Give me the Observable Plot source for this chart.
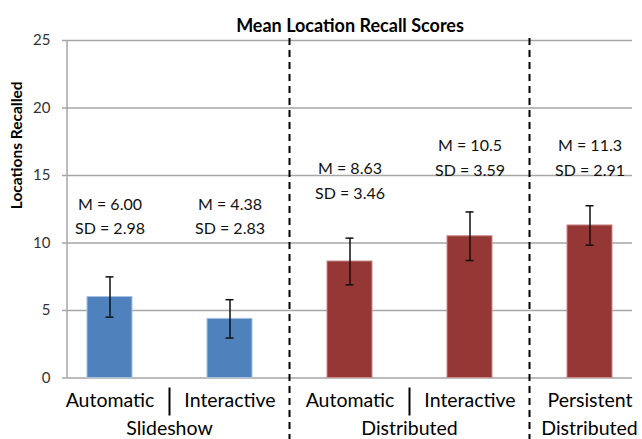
<!DOCTYPE html>
<html><head><meta charset="utf-8">
<script src="https://cdn.jsdelivr.net/npm/d3@7"></script>
<script src="https://cdn.jsdelivr.net/npm/@observablehq/plot@0.6"></script>
<style>body{margin:0;background:#fff;}</style>
</head><body><div id="chart"></div>
<script>
// ---- data ----
const conditions = ["Automatic", "Interactive", "Automatic", "Interactive", "Persistent"];
const sections   = ["Slideshow", "Slideshow", "Distributed", "Distributed", "Persistent Distributed"];
const groupNames = ["Slideshow", "Slideshow", "Distributed", "Distributed", "Distributed"];
const means      = [6.00, 4.38, 8.63, 10.5, 11.3];
const meanText   = ["6.00", "4.38", "8.63", "10.5", "11.3"];
const sdText     = ["2.98", "2.83", "3.46", "3.59", "2.91"];
const errors     = [1.49, 1.42, 1.73, 1.80, 1.46];   // half-length of error bars
const labelLevel = [12.15, 12.15, 14.8, 16.5, 16.5]; // where the M/SD notes sit
const yTicks     = [0, 5, 10, 15, 20, 25];
const title      = "Mean Location Recall Scores";
const yTitle     = "Locations Recalled";

const keys = conditions.map((c, i) => `${sections[i]}|${c}`);
const rows = keys.map((k, i) => ({
  key: k, cond: conditions[i], section: sections[i], group: groupNames[i],
  mean: means[i], err: errors[i], level: labelLevel[i],
  note: `M = ${meanText[i]}\nSD = ${sdText[i]}`
}));
const condOf = new Map(rows.map(d => [d.key, d.cond]));

const FONT = "Lato, 'Open Sans', sans-serif";
const GRID = "#a6a6a6";
const CAT_SIZE = 19.5;

function decorations(index, scales, values, dimensions) {
  const {x, y} = scales;
  const bw = x.bandwidth();
  const g = d3.create("svg:g");
  const left = dimensions.marginLeft;
  g.append("line")
    .attr("x1", left).attr("x2", left)
    .attr("y1", y(25)).attr("y2", y(0))
    .attr("stroke", GRID).attr("stroke-width", 1.5);
  for (let i = 1; i < keys.length; i++) {
    const bx = (x(keys[i - 1]) + bw + x(keys[i])) / 2;
    if (sections[i] !== sections[i - 1]) {
      g.append("line")
        .attr("x1", bx).attr("x2", bx)
        .attr("y1", y(25) - 2).attr("y2", dimensions.height)
        .attr("stroke", "#000").attr("stroke-width", 2)
        .attr("stroke-dasharray", "7,5");
    } else {
      g.append("line")
        .attr("x1", bx).attr("x2", bx)
        .attr("y1", y(0) + 10).attr("y2", y(0) + 38)
        .attr("stroke", "#000").attr("stroke-width", 2);
    }
  }
  // group labels (second line of the category axis)
  const spans = [];
  sections.forEach((s, i) => {
    const last = spans[spans.length - 1];
    if (last && last.section === s) last.to = i;
    else spans.push({section: s, label: groupNames[i], from: i, to: i});
  });
  for (const s of spans) {
    const cx = (x(keys[s.from]) + x(keys[s.to]) + bw) / 2;
    g.append("text")
      .attr("x", cx).attr("y", y(0) + 57)
      .attr("text-anchor", "middle")
      .attr("font-size", CAT_SIZE).attr("font-family", FONT).attr("fill", "#000")
      .text(s.label);
  }
  return g.node();
}

const chart = Plot.plot({
  width: 642,
  height: 439,
  marginLeft: 67,
  marginRight: 10,
  marginTop: 40,
  marginBottom: 61.5,
  style: {fontFamily: FONT, background: "#fff", overflow: "visible"},
  x: {domain: keys, paddingInner: 0.625, paddingOuter: 1 / 6},
  y: {domain: [0, 25]},
  marks: [
    Plot.gridY(yTicks, {stroke: GRID, strokeOpacity: 1, strokeWidth: 1.5}),
    Plot.axisY(yTicks, {tickSize: 5, tickPadding: 12, stroke: GRID, strokeWidth: 1.5,
      fontSize: 15, fill: "#333", label: null}),
    Plot.axisX({tickSize: 0, tickPadding: 15, fontSize: CAT_SIZE, fill: "#000",
      tickFormat: k => condOf.get(k), label: null}),
    Plot.barY(rows, {x: "key", y: "mean",
      fill: d => d.group === "Slideshow" ? "#4f81bd" : "#953735",
      stroke: d => d.group === "Slideshow" ? "#a9c1e0" : "#c98a88", strokeWidth: 1}),
    Plot.ruleX(rows, {x: "key", y1: d => d.mean - d.err, y2: d => d.mean + d.err,
      stroke: "#111", strokeWidth: 1.5}),
    Plot.tickY(rows, {x: "key", y: d => d.mean + d.err, insetLeft: 18.5, insetRight: 18.5,
      stroke: "#111", strokeWidth: 1.5}),
    Plot.tickY(rows, {x: "key", y: d => d.mean - d.err, insetLeft: 18.5, insetRight: 18.5,
      stroke: "#111", strokeWidth: 1.5}),
    Plot.text(rows, {x: "key", y: "level", text: "note", fontSize: 16, lineHeight: 1.55,
      fill: "#111"}),
    Plot.text([title], {frameAnchor: "top", dy: -21, fontWeight: "bold", fontSize: 18,
      fill: "#000"}),
    Plot.text([yTitle], {frameAnchor: "left", dx: -50, rotate: -90, fontWeight: "bold",
      fontSize: 15.5, fill: "#000"}),
    decorations
  ]
});
document.getElementById("chart").appendChild(chart);
</script>
</body></html>
